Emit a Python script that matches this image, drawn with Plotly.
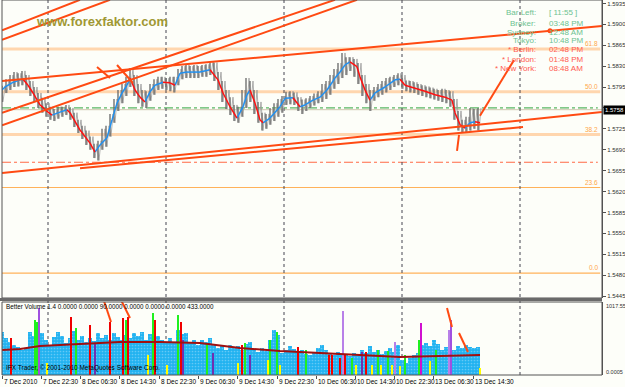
import plotly.graph_objects as go

# ---------------- data ----------------
bar_x = list(range(0, 480, 4))
highs = [1.5797, 1.5808, 1.5815, 1.5820, 1.5818, 1.5822, 1.5815, 1.5805, 1.5795, 1.5785,
         1.5777, 1.5768, 1.5762, 1.5758, 1.5762, 1.5762, 1.5765, 1.5760, 1.5752, 1.5740,
         1.5730, 1.5722, 1.5712, 1.5700, 1.5705, 1.5725, 1.5730, 1.5750, 1.5775, 1.5790,
         1.5800, 1.5812, 1.5827, 1.5815, 1.5800, 1.5790, 1.5788, 1.5800, 1.5808, 1.5812,
         1.5812, 1.5810, 1.5812, 1.5812, 1.5825, 1.5830, 1.5832, 1.5830, 1.5832, 1.5830,
         1.5832, 1.5833, 1.5838, 1.5836, 1.5820, 1.5805, 1.5790, 1.5778, 1.5765, 1.5762,
         1.5790, 1.5810, 1.5805, 1.5790, 1.5770, 1.5752, 1.5750, 1.5760, 1.5768, 1.5775,
         1.5780, 1.5787, 1.5788, 1.5786, 1.5778, 1.5774, 1.5776, 1.5780, 1.5784, 1.5788,
         1.5800, 1.5805, 1.5815, 1.5825, 1.5835, 1.5852, 1.5845, 1.5845, 1.5842, 1.5835,
         1.5815, 1.5800, 1.5790, 1.5795, 1.5800, 1.5805, 1.5810, 1.5812, 1.5815, 1.5818,
         1.5815, 1.5806, 1.5805, 1.5803, 1.5800, 1.5798, 1.5796, 1.5794, 1.5792, 1.5790,
         1.5792, 1.5790, 1.5788, 1.5775, 1.5755, 1.5740, 1.5745, 1.5760, 1.5758, 1.5760]
lows = [1.5770, 1.5785, 1.5790, 1.5795, 1.5796, 1.5798, 1.5790, 1.5780, 1.5770, 1.5760,
        1.5752, 1.5745, 1.5740, 1.5738, 1.5742, 1.5745, 1.5748, 1.5740, 1.5728, 1.5718,
        1.5708, 1.5698, 1.5690, 1.5676, 1.5672, 1.5690, 1.5695, 1.5712, 1.5735, 1.5755,
        1.5768, 1.5780, 1.5795, 1.5780, 1.5768, 1.5762, 1.5760, 1.5772, 1.5782, 1.5790,
        1.5792, 1.5790, 1.5788, 1.5786, 1.5798, 1.5808, 1.5810, 1.5810, 1.5810, 1.5810,
        1.5812, 1.5812, 1.5815, 1.5805, 1.5790, 1.5770, 1.5758, 1.5748, 1.5738, 1.5735,
        1.5745, 1.5760, 1.5770, 1.5750, 1.5735, 1.5722, 1.5725, 1.5732, 1.5738, 1.5745,
        1.5752, 1.5765, 1.5766, 1.5765, 1.5755, 1.5750, 1.5755, 1.5760, 1.5764, 1.5768,
        1.5770, 1.5775, 1.5782, 1.5792, 1.5800, 1.5810, 1.5815, 1.5822, 1.5812, 1.5800,
        1.5780, 1.5768, 1.5755, 1.5772, 1.5778, 1.5782, 1.5786, 1.5790, 1.5795, 1.5798,
        1.5792, 1.5788, 1.5786, 1.5785, 1.5782, 1.5780, 1.5778, 1.5776, 1.5774, 1.5772,
        1.5770, 1.5768, 1.5762, 1.5740, 1.5722, 1.5718, 1.5718, 1.5722, 1.5725, 1.5722]

ma_x = [0, 3, 10, 18, 21, 26, 31, 38, 46, 50, 58, 65, 68, 78, 88, 93, 98, 105, 110, 115,
        120, 125, 128, 133, 138, 143, 148, 153, 161, 168, 173, 178, 185, 198, 208, 216, 221,
        228, 235, 241, 245, 248, 253, 258, 261, 268, 278, 283, 291, 298, 303, 311, 318, 325,
        333, 338, 343, 348, 355, 358, 363, 368, 373, 383, 393, 398, 403, 413, 423, 433, 443,
        450, 453, 458, 463, 468, 473, 478]
ma_p = [1.5790, 1.5795, 1.5802, 1.5807, 1.5808, 1.5798, 1.5785, 1.5765, 1.5753, 1.5748,
        1.5753, 1.5757, 1.5752, 1.5723, 1.5701, 1.5686, 1.5698, 1.5710, 1.5740, 1.5768,
        1.5785, 1.5798, 1.5810, 1.5790, 1.5778, 1.5770, 1.5787, 1.5798, 1.5803, 1.5802,
        1.5798, 1.5818, 1.5820, 1.5820, 1.5824, 1.5807, 1.5785, 1.5762, 1.5743, 1.5762,
        1.5782, 1.5790, 1.5768, 1.5740, 1.5735, 1.5743, 1.5762, 1.5776, 1.5777, 1.5762,
        1.5765, 1.5773, 1.5778, 1.5790, 1.5810, 1.5820, 1.5832, 1.5837, 1.5829, 1.5812,
        1.5790, 1.5773, 1.5785, 1.5795, 1.5807, 1.5808, 1.5798, 1.5793, 1.5788, 1.5782,
        1.5778, 1.5773, 1.5752, 1.5732, 1.5726, 1.5735, 1.5737, 1.5735]

fib_labels = ["0.0", "23.6", "38.2", "50.0", "61.8"]
fib_prices = [1.54835, 1.56267, 1.57154, 1.57870, 1.58586]
green_level = 1.5760
red_level = 1.5669
bid_price = 1.5757
bid_text = "1.5758"

trendlines = [((0, 1.5890), (78, 1.5941)),
              ((0, 1.5874), (108, 1.5941)),
              ((0, 1.5752), (333, 1.5941)),
              ((0, 1.5731), (355, 1.5941)),
              ((0, 1.5805), (600, 1.5897)),
              ((95, 1.58285), (108, 1.58101)),
              ((115, 1.58319), (131, 1.58017)),
              ((0, 1.5651), (600, 1.5753)),
              ((78, 1.5659), (521, 1.5728)),
              ((478, 1.5747), (512, 1.5840)),
              ((455, 1.5688), (457, 1.5715))]
arrow_dot = (548, 1.5889)

price_ticks = [1.5445, 1.5480, 1.5515, 1.5550, 1.5585, 1.5620, 1.5655, 1.5690,
               1.5725, 1.5760, 1.5795, 1.5830, 1.5865, 1.5900, 1.5935]
price_tick_text = ["1.5445", "1.5480", "1.5515", "1.5550", "1.5585", "1.5620", "1.5655", "1.5690",
                   "1.5725", "", "1.5795", "1.5830", "1.5865", "1.5900", "1.5935"]

vol = [625, 537, 479, 435, 406, 363, 392, 625, 566, 653, 610, 508, 435, 552, 625, 566, 465, 537,
       639, 508, 566, 479, 537, 494, 610, 537, 581, 508, 610, 552, 508, 581, 537, 610, 566, 625,
       508, 595, 537, 566, 508, 465, 537, 479, 653, 595, 610, 465, 508, 435, 508, 479, 537, 435,
       392, 421, 363, 435, 392, 421, 363, 450, 479, 363, 334, 392, 348, 508, 653, 581, 319, 363,
       421, 377, 334, 363, 305, 290, 334, 392, 435, 363, 319, 290, 334, 290, 305, 276, 319, 290,
       363, 319, 421, 334, 363, 305, 348, 392, 334, 435, 218, 174, 247, 290, 319, 435, 465, 421,
       508, 450, 363, 406, 435, 363, 421, 392, 435, 406, 392, 406]
spec_x = [9, 33, 35, 37, 45, 69, 74, 88, 93, 108, 121, 124, 126, 146, 151, 153, 165, 176, 179,
          181, 205, 211, 236, 240, 243, 248, 266, 268, 275, 278, 296, 304, 327, 330, 338, 341,
          343, 350, 354, 360, 364, 370, 376, 379, 386, 390, 393, 398, 403, 417, 419, 428, 434,
          447, 449, 478]
spec_v = [537, 798, 770, 973, 174, 842, 682, 726, 465, 770, 827, 798, 842, 290, 900, 798, 145,
          871, 770, 508, 465, 320, 174, 435, 465, 290, 218, 508, 624, 145, 406, 363, 290, 290,
          250, 929, 290, 250, 145, 334, 334, 150, 363, 150, 348, 150, 479, 130, 290, 508, 755,
          200, 363, 653, 798, 100]
spec_c = ["r", "g", "g", "p", "y", "r", "g", "r", "d", "r", "r", "g", "r", "y", "g", "r", "y",
          "g", "r", "d", "g", "d", "y", "r", "g", "d", "y", "g", "g", "y", "r", "g", "r", "r",
          "r", "l", "r", "g", "y", "d", "r", "y", "g", "y", "g", "y", "l", "y", "g", "g", "m",
          "y", "g", "l", "p", "y"]
vol_ma_x = [0, 18, 38, 58, 78, 118, 158, 198, 238, 278, 318, 358, 398, 438, 478]
vol_ma_v = [363, 377, 420, 436, 450, 479, 479, 465, 392, 348, 319, 290, 261, 276, 290]
vol_arrows = [((101, 1118), (109, 770)), ((118, 1118), (128, 827)),
              ((445, 973), (450, 697)), ((457, 610), (466, 334))]

date_ticks = [0, 39, 78, 117, 157, 196, 235, 275, 314, 353, 392, 431, 471]
date_labels = ["7 Dec 2010", "7 Dec 22:30", "8 Dec 06:30", "8 Dec 14:30", "8 Dec 22:30",
               "9 Dec 06:30", "9 Dec 14:30", "9 Dec 22:30", "10 Dec 06:30", "10 Dec 14:30",
               "10 Dec 22:30", "13 Dec 06:30", "13 Dec 14:30"]
day_separators = [46, 164, 282, 400, 518]

clock_labels = ["Bar Left:", "Broker:", "Sydney:", "Tokyo:", "* Berlin:", "* London:", "* New York:"]
clock_values = ["[ 11:55 ]", "03:48 PM", "12:48 AM", "10:48 PM", "02:48 PM", "01:48 PM", "08:48 AM"]
clock_green = [True, True, True, True, False, False, False]

# ---------------- figure ----------------
W, H = 625, 387
L, R, T, B = 2, 23, 0, 12
PW, PH = W - L - R, H - T - B


def pxx(px):
    return (px - L) / PW


def pxy(py):
    return (PH - (py - T)) / PH


FONT = "Liberation Sans"
BG = "#FDFEF9"
fig = go.Figure()

# gray price bars: vertical high-low strokes plus a light zigzag
sx, sy, zx, zy = [], [], [], []
for x, h, l in zip(bar_x, highs, lows):
    sx += [x, x, None]
    sy += [l, h, None]
    zx += [x + 1, x + 3]
    zy += [l, h]
fig.add_trace(go.Scatter(x=zx, y=zy, mode="lines", line=dict(color="#9A9A9A", width=0.8),
                         xaxis="x", yaxis="y", hoverinfo="skip"))
fig.add_trace(go.Scatter(x=sx, y=sy, mode="lines", line=dict(color="#666666", width=1.3),
                         xaxis="x", yaxis="y", hoverinfo="skip"))

# moving average, blue rising / red falling
bx, by, rx, ry = [], [], [], []
for i in range(len(ma_x) - 1):
    if ma_p[i + 1] >= ma_p[i]:
        bx += [ma_x[i], ma_x[i + 1], None]; by += [ma_p[i], ma_p[i + 1], None]
    else:
        rx += [ma_x[i], ma_x[i + 1], None]; ry += [ma_p[i], ma_p[i + 1], None]
fig.add_trace(go.Scatter(x=bx, y=by, mode="lines", line=dict(color="#2090F0", width=1.5),
                         xaxis="x", yaxis="y"))
fig.add_trace(go.Scatter(x=rx, y=ry, mode="lines", line=dict(color="#FF1010", width=1.5),
                         xaxis="x", yaxis="y"))

# trend lines
for (x0, p0), (x1, p1) in trendlines:
    fig.add_trace(go.Scatter(x=[x0, x1], y=[p0, p1], mode="lines",
                             line=dict(color="#FF4A12", width=2), xaxis="x", yaxis="y"))
fig.add_trace(go.Scatter(x=[arrow_dot[0]], y=[arrow_dot[1]], mode="markers",
                         marker=dict(color="#FF4A12", size=5), xaxis="x", yaxis="y"))

# volume panel
fig.add_trace(go.Bar(x=bar_x, y=vol, width=3.6, xaxis="x2", yaxis="y2",
                     marker=dict(color="#22B2F0", line=dict(width=0),
                                 pattern=dict(shape=".", fgcolor="#A6E0FA", size=3, solidity=0.25))))
cmap = {"r": "#F00000", "g": "#20F020", "y": "#FFFF00", "p": "#A050E0",
        "d": "#7030B0", "l": "#B880E8", "m": "#D010D0"}
fig.add_trace(go.Bar(x=spec_x, y=spec_v, width=1.6, xaxis="x2", yaxis="y2",
                     marker=dict(color=[cmap[c] for c in spec_c], line=dict(width=0))))
fig.add_trace(go.Scatter(x=vol_ma_x, y=vol_ma_v, mode="lines", line=dict(color="#A01010", width=2),
                         xaxis="x2", yaxis="y2"))
for (x0, v0), (x1, v1) in vol_arrows:
    fig.add_trace(go.Scatter(x=[x0, x1], y=[v0, v1], mode="lines",
                             line=dict(color="#FF4A12", width=2), xaxis="x2", yaxis="y2"))

shapes = []
# fibonacci levels
for lab, p in zip(fib_labels, fib_prices):
    thick = lab in ("38.2", "50.0", "61.8")
    shapes.append(dict(type="line", xref="paper", yref="y", x0=0, x1=0.997, y0=p, y1=p, layer="below",
                       line=dict(color="#FFD6AE" if thick else "#FFB25A", width=3 if thick else 1.2)))
shapes.append(dict(type="line", xref="paper", yref="y", x0=0, x1=1, y0=bid_price, y1=bid_price,
                   layer="below", line=dict(color="#CFC7AE", width=1)))
shapes.append(dict(type="line", xref="paper", yref="y", x0=0, x1=0.993, y0=green_level, y1=green_level,
                   layer="below", line=dict(color="#2EA23A", width=1, dash="dashdot")))
shapes.append(dict(type="line", xref="paper", yref="y", x0=0, x1=0.993, y0=red_level, y1=red_level,
                   layer="below", line=dict(color="#FF6A45", width=1, dash="dashdot")))
for d in day_separators:
    shapes.append(dict(type="line", xref="x", yref="paper", x0=d, x1=d, y0=0, y1=1, layer="below",
                       line=dict(color="#444450", width=1, dash="dot")))
# panel frames and separator
shapes.append(dict(type="rect", xref="paper", yref="paper", x0=0, x1=1, y0=pxy(298), y1=1,
                   line=dict(color="#555555", width=1)))
shapes.append(dict(type="rect", xref="paper", yref="paper", x0=0, x1=1, y0=0, y1=pxy(302),
                   line=dict(color="#555555", width=1)))
shapes.append(dict(type="rect", xref="paper", yref="paper", x0=pxx(0), x1=1, y0=pxy(301), y1=pxy(298),
                   fillcolor="#6A6A6A", line=dict(width=0)))

ann = []


def text(x, y, s, size, color, xanchor="left", xref="paper", yref="paper", **kw):
    ann.append(dict(x=x, y=y, xref=xref, yref=yref, text=s, showarrow=False, xanchor=xanchor,
                    yanchor=kw.pop("yanchor", "middle"),
                    font=dict(family=FONT, size=size, color=color), **kw))


for lab, p in zip(fib_labels, fib_prices):
    text(0.997, p, lab, 6.5, "#FFA64A", xanchor="right", yref="y", yanchor="bottom")
text(pxx(603), bid_price, bid_text, 6, "#FFFFFF", yref="y", bgcolor="#000000", borderpad=1)
text(pxx(102), pxy(22), "<b>www.forexfaktor.com</b>", 13, "#A09834", xanchor="center")
rows = [13, 23, 32, 41, 50, 59, 68]
for lab, val, gr, ry_ in zip(clock_labels, clock_values, clock_green, rows):
    col = "#6CC290" if gr else "#FF5A50"
    text(pxx(538), pxy(ry_), lab, 8, col, xanchor="right")
    text(pxx(547), pxy(ry_), val, 8, col)
text(pxx(4), pxy(306), "Better Volume 1.4 0.0000 0.0000 90.0000 0.0000 0.0000 0.0000 433.0000",
     6.3, "#000000")
text(pxx(4), pxy(368), "IFX Trader, © 2001-2010 MetaQuotes Software Corp.", 6.5, "#000000")
text(pxx(603.5), pxy(306), "1017.55", 5.5, "#303030")
text(pxx(603.5), pxy(372), "0.0005", 5.5, "#303030")
for t, lab in zip(date_ticks, date_labels):
    text(t, pxy(381), lab, 6.5, "#000000", xref="x2")

fig.update_layout(
    width=W, height=H, margin=dict(l=L, r=R, t=T, b=B),
    paper_bgcolor=BG, plot_bgcolor=BG, showlegend=False, barmode="overlay", bargap=0,
    shapes=shapes, annotations=ann,
    xaxis=dict(domain=[0, 1], range=[0, 600], anchor="y", showgrid=False, zeroline=False,
               showticklabels=False, ticks=""),
    yaxis=dict(domain=[pxy(298), 1], range=[1.54417, 1.59407], side="right", anchor="x",
               showgrid=False, zeroline=False, tickvals=price_ticks, ticktext=price_tick_text,
               ticks="outside", ticklen=3, tickcolor="#505050", showline=True, linecolor="#505050",
               tickfont=dict(family=FONT, size=6, color="#303030"), automargin=False),
    xaxis2=dict(domain=[0, 1], range=[0, 600], anchor="y2", showgrid=False, zeroline=False,
                showticklabels=False, tickvals=date_ticks, ticks="outside", ticklen=3,
                tickcolor="#505050", automargin=False),
    yaxis2=dict(domain=[0, pxy(302)], range=[0, 1060], side="right", anchor="x2", showgrid=False,
                zeroline=False, showticklabels=False, showline=True, linecolor="#505050",
                automargin=False),
)
fig.write_html("out.html")
